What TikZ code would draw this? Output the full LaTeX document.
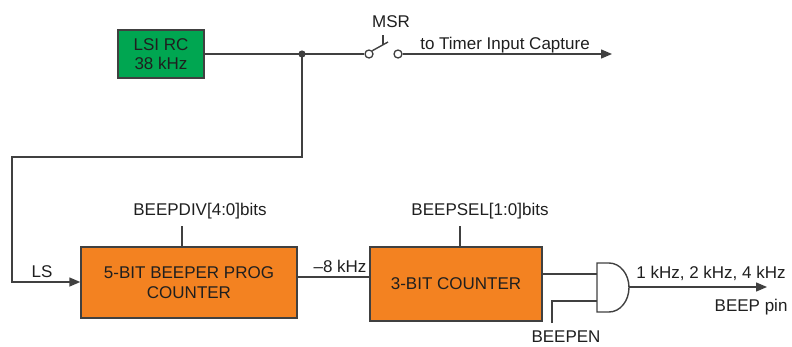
\documentclass[tikz,border=0pt]{standalone}
\usepackage{fontspec}
\setmainfont{Liberation Sans}
\usetikzlibrary{arrows.meta,positioning,calc}
\definecolor{LsiGreen}{RGB}{0,166,81}
\definecolor{BeepOrange}{RGB}{243,130,33}
\definecolor{WireGray}{RGB}{64,64,64}

\begin{document}
\begin{tikzpicture}[x=1pt, y=-1pt,
  every node/.style={font=\fontsize{17}{19.5}\selectfont, text=black!88},
  block/.style={rectangle, draw=WireGray, line width=1.4pt, inner sep=0pt, align=center},
  wire/.style={WireGray, line width=1.4pt},
  sigarrow/.style={wire, -{Triangle[length=11pt,width=9pt]}},
  contact/.style={circle, draw=WireGray, line width=1.3pt, fill=white, minimum size=8pt, inner sep=0pt},
  tag/.style={anchor=base}
]
\useasboundingbox (0,0) rectangle (792,346);

% Oscillator
\node[block, fill=LsiGreen, minimum width=86pt, minimum height=48pt] (lsi) at (161,54) {LSI RC\\38 kHz};

% Junction and MSR switch
\coordinate (split) at (302,54);
\node[contact] (msrA) at (369,54) {};
\node[contact] (msrB) at (398,54) {};
\coordinate (lever) at (388,42);
\coordinate (timer) at (612,54);
\draw[wire] (lsi.east) -- (split) -- (msrA.west);
\fill[WireGray] (split) circle (3.6pt);
\draw[wire] (msrA.north east) -- (lever);
\draw[wire] (383,35) -- (383,45);
\node[tag] (msr) at (391,27) {MSR};
\draw[sigarrow] (msrB.east) -- (timer);
\node[tag] (cap) at (505,49) {to Timer Input Capture};

% Counters
\node[block, fill=BeepOrange, minimum width=216pt, minimum height=71pt] (prog) at (189,282.5) {5-BIT BEEPER PROG\\COUNTER};
\node[block, fill=BeepOrange, minimum width=172pt, minimum height=74pt] (cnt) at (456,284) {3-BIT COUNTER};

% Clock feed from oscillator
\coordinate (down) at (302,157);
\coordinate (left) at (12,157);
\coordinate (ls) at (12,282);
\draw[sigarrow] (split) -- (down) -- (left) -- (ls) -- (prog.west |- ls);
\node[tag] (lslabel) at (42,277) {LS};

% Register bits
\node[tag] (div) at (200,215) {BEEPDIV[4:0]bits};
\draw[wire] (182,226) -- (prog.north -| 182,0);
\node[tag] (sel) at (480,215) {BEEPSEL[1:0]bits};
\draw[wire] (460,226) -- (cnt.north -| 460,0);

% Link between counters
\coordinate (mid) at (370,277);
\draw[wire] (prog.east |- mid) -- (mid);
\node[tag] (khz) at (340,272) {--8 kHz};

% AND gate
\coordinate (gin1) at (597,274);
\coordinate (gin2) at (597,301);
\coordinate (gout) at (629,287);
\draw[wire, fill=white] (597,263) -- (609,263) arc[start angle=90, end angle=-90, x radius=20pt, y radius=24.5pt] -- (597,312) -- cycle;
\draw[wire] (cnt.east |- gin1) -- (gin1);
\coordinate (en) at (552,323);
\draw[wire] (en) -- (en |- gin2) -- (gin2);
\node[tag] (beepen) at (566,342) {BEEPEN};

% Output
\coordinate (pin) at (767,287);
\draw[sigarrow] (gout) -- (pin);
\node[tag] (freq) at (711,278) {1 kHz, 2 kHz, 4 kHz};
\node[tag, anchor=base east] (beeppin) at (791,311) {BEEP pin};

\end{tikzpicture}
\end{document}
